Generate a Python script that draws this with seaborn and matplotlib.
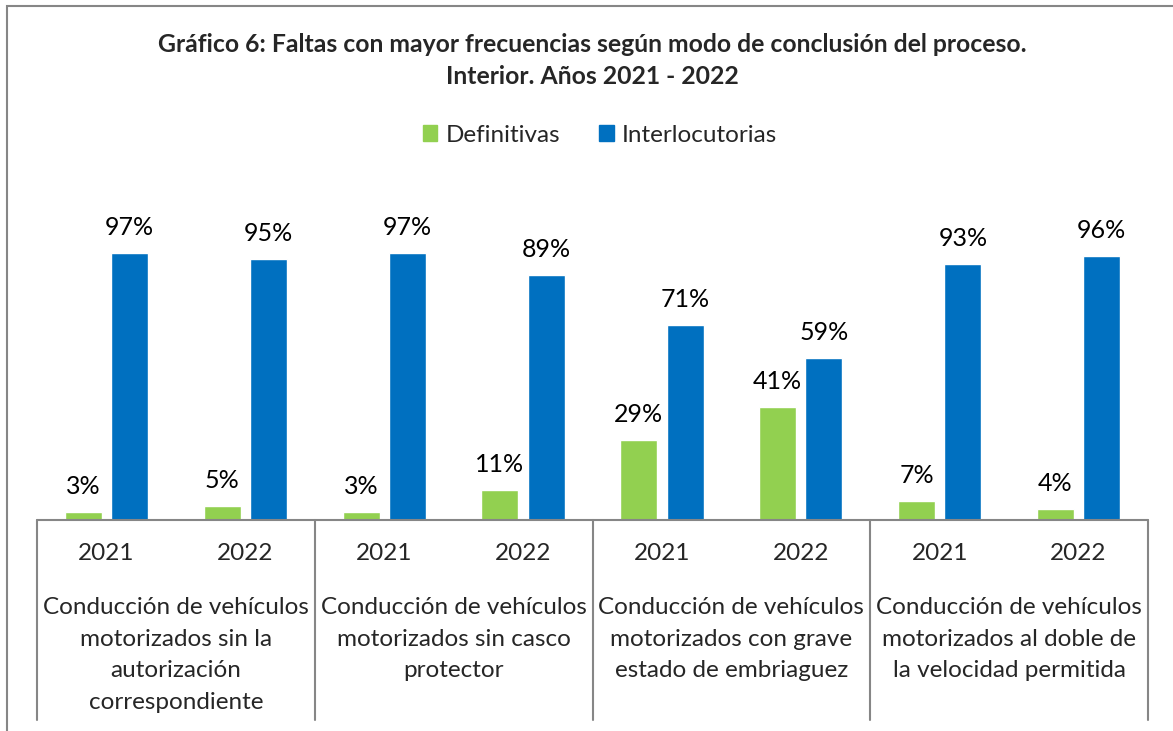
import matplotlib
matplotlib.use("Agg")
import matplotlib.pyplot as plt
import seaborn as sns
import pandas as pd
from matplotlib.patches import Rectangle
from matplotlib.transforms import blended_transform_factory

categories = [
    "Conducción de vehículos\nmotorizados sin la\nautorización\ncorrespondiente",
    "Conducción de vehículos\nmotorizados sin casco\nprotector",
    "Conducción de vehículos\nmotorizados con grave\nestado de embriaguez",
    "Conducción de vehículos\nmotorizados al doble de\nla velocidad permitida",
]
years = ["2021", "2022"]
definitivas = [0.03, 0.05, 0.03, 0.11, 0.29, 0.41, 0.07, 0.04]
interlocutorias = [0.97, 0.95, 0.97, 0.89, 0.71, 0.59, 0.93, 0.96]
series_names = ["Definitivas", "Interlocutorias"]
colors = {"Definitivas": "#92D050", "Interlocutorias": "#0070C0"}

sns.set_theme(style="white")
plt.rcParams["font.family"] = ["Lato", "DejaVu Sans"]

slots = [f"{c}|{y}" for c in range(len(categories)) for y in years]
rows = []
for i, s in enumerate(slots):
    rows.append({"slot": s, "serie": series_names[0], "valor": definitivas[i]})
    rows.append({"slot": s, "serie": series_names[1], "valor": interlocutorias[i]})
df = pd.DataFrame(rows)

W, H = 1173, 731
fig = plt.figure(figsize=(W / 100, H / 100), dpi=100)
ax_left, ax_right, ax_top, ax_bottom = 37, 1148, 190, 520
ax = fig.add_axes([ax_left / W, 1 - ax_bottom / H, (ax_right - ax_left) / W, (ax_bottom - ax_top) / H])

sns.barplot(data=df, x="slot", y="valor", hue="serie", order=slots,
            hue_order=series_names, palette=colors, width=0.667, gap=0.2,
            ax=ax, legend=False, saturation=1, errorbar=None)

ax.set_xlim(-0.5, len(slots) - 0.5)
ax.set_ylim(0, 1.2)
for sp in ax.spines.values():
    sp.set_visible(False)
ax.set_xticks([])
ax.set_yticks([])
ax.set_xlabel("")
ax.set_ylabel("")

label_fs = 17.5
for cont in ax.containers:
    ax.bar_label(cont, labels=[f"{v*100:.0f}%" for v in cont.datavalues],
                 padding=10, fontsize=18, color="#000000")

# multi-level axis
gray = "#868686"
trans = blended_transform_factory(ax.transData, ax.transAxes)
axh = ax_bottom - ax_top
bottom_y = -(720 - ax_bottom) / axh
ax.plot([-0.5, len(slots) - 0.5], [0, 0], transform=trans, color=gray, lw=1.5, clip_on=False)
for b in [-0.5, 1.5, 3.5, 5.5, 7.5]:
    ax.plot([b, b], [0, bottom_y], transform=trans, color=gray, lw=1.5, clip_on=False)
for i, s in enumerate(slots):
    ax.text(i, -(553 - ax_bottom) / axh, s.split("|")[1], transform=trans,
            ha="center", va="center", fontsize=label_fs)
for c, name in enumerate(categories):
    ax.text(2 * c + 0.5, -(597 - ax_bottom) / axh, name, transform=trans,
            ha="center", va="top", fontsize=label_fs, linespacing=1.62)

# title
tx = 0.5 * (157 + 1028) / W
fig.text(tx, 1 - 45 / H,
         "Gráfico 6: Faltas con mayor frecuencias según modo de conclusión del proceso.",
         ha="center", va="center", fontsize=17.8, fontweight="bold")
fig.text(tx, 1 - 77 / H, "Interior. Años 2021 - 2022",
         ha="center", va="center", fontsize=17.8, fontweight="bold")

# legend
handles = [Rectangle((0, 0), 1, 1, color=colors[n]) for n in series_names]
fig.legend(handles, series_names, loc="center", bbox_to_anchor=(600 / W, 1 - 135 / H),
           ncol=2, frameon=False, fontsize=17.5, handlelength=0.6, handleheight=0.6,
           handletextpad=0.35, columnspacing=1.6)

# outer border
fig.patches.append(Rectangle((7 / W, -0.1), 1.2, 1 - 6 / H + 0.1, transform=fig.transFigure,
                             fill=False, edgecolor=gray, lw=1.5))

fig.savefig("out.png", dpi=100)
